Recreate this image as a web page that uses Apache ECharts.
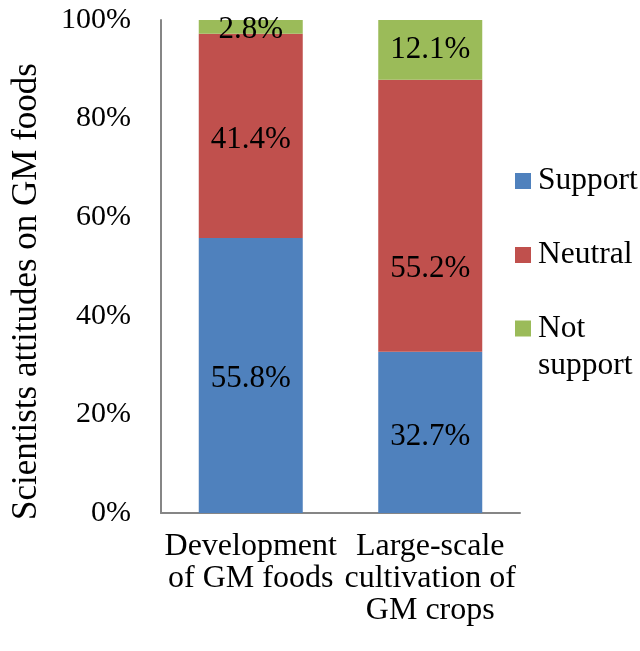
<!DOCTYPE html>
<html><head><meta charset="utf-8">
<script src="https://cdn.jsdelivr.net/npm/echarts@6/dist/echarts.min.js"></script>
<style>html,body{margin:0;padding:0;background:#fff}#c{width:640px;height:651px}</style>
</head><body><div id="c"></div>
<script>
const categories = ["Development\nof GM foods", "Large-scale\ncultivation of\nGM crops"];
const support = [55.8, 32.7];
const neutral = [41.4, 55.2];
const notSupport = [2.8, 12.1];
const yTicks = [0, 20, 40, 60, 80, 100];
const font = "'Liberation Serif', 'Times New Roman', serif";
const chart = echarts.init(document.getElementById('c'));
function ser(name, data, color, offsets) {
  return {
    name: name, type: 'bar', stack: 'a', barWidth: 104,
    data: data.map((v, i) => ({ value: v, label: { offset: offsets[i] } })),
    itemStyle: { color: color },
    label: { show: true, position: 'inside', formatter: p => p.value.toFixed(1) + '%',
      color: '#000', fontFamily: font, fontSize: 31 }
  };
}
const legendText = { fontFamily: font, fontSize: 31.5, color: '#000', lineHeight: 36, padding: [0, 0, 0, 2] };
chart.setOption({
  animation: false,
  textStyle: { fontFamily: font },
  grid: { left: 161, right: 120, top: 20, bottom: 138 },
  legend: [
    { orient: 'vertical', left: 515, top: 163, itemWidth: 16, itemHeight: 16, itemGap: 0, padding: 0,
      data: ['Support'], textStyle: legendText, icon: 'rect', selectedMode: false },
    { orient: 'vertical', left: 515, top: 237, itemWidth: 16, itemHeight: 16, itemGap: 0, padding: 0,
      data: ['Neutral'], textStyle: legendText, icon: 'rect', selectedMode: false },
    { orient: 'vertical', left: 515, top: 310, itemWidth: 16, itemHeight: 53, itemGap: 0, padding: 0,
      data: ['Not support'], formatter: () => 'Not\nsupport',
      textStyle: Object.assign({}, legendText, { lineHeight: 37 }),
      icon: 'path://M0,0h16v16h-16Z M0,52.9h0.1v0.1h-0.1Z', selectedMode: false }
  ],
  xAxis: {
    type: 'category', data: categories,
    axisLine: { lineStyle: { color: '#868686', width: 2 } },
    axisTick: { show: false },
    axisLabel: { color: '#000', fontFamily: font, fontSize: 32, lineHeight: 32, margin: 18, interval: 0 }
  },
  yAxis: {
    type: 'value', min: 0, max: 100, interval: 20,
    name: 'Scientists attitudes on GM foods', nameLocation: 'middle', nameGap: 117,
    nameTextStyle: { color: '#000', fontFamily: font, fontSize: 35, padding: [0, 50, 0, 0] },
    axisLine: { show: true, lineStyle: { color: '#868686', width: 2 } },
    axisTick: { show: false },
    splitLine: { show: false },
    axisLabel: { color: '#000', fontFamily: font, fontSize: 30, margin: 30,
      formatter: v => yTicks.includes(v) ? v + '%' : '' }
  },
  series: [
    ser('Support', support, '#4F81BD', [[0, 3], [0, 4]]),
    ser('Neutral', neutral, '#C0504D', [[0, 4], [0, 53]]),
    ser('Not support', notSupport, '#9BBB59', [[0, 3], [0, 0]])
  ]
});
</script></body></html>
